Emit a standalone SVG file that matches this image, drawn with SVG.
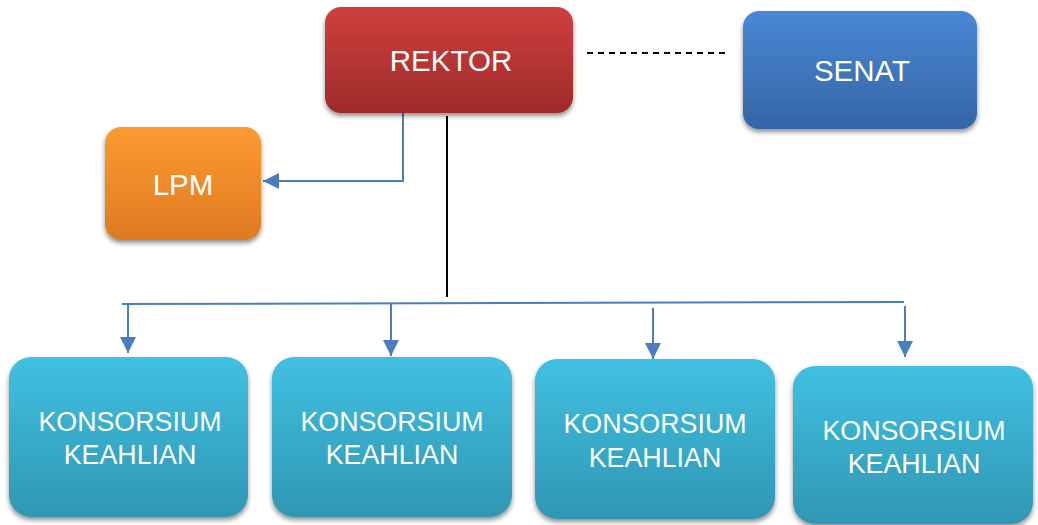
<svg xmlns="http://www.w3.org/2000/svg" width="1038" height="525" viewBox="0 0 1038 525">
<defs>
<linearGradient id="gRed" x1="0" y1="0" x2="0" y2="1"><stop offset="0" stop-color="#d03f3d"/><stop offset="1" stop-color="#9e2b2a"/></linearGradient>
<linearGradient id="gBlue" x1="0" y1="0" x2="0" y2="1"><stop offset="0" stop-color="#4a88d4"/><stop offset="1" stop-color="#3465a6"/></linearGradient>
<linearGradient id="gOrange" x1="0" y1="0" x2="0" y2="1"><stop offset="0" stop-color="#fc9b32"/><stop offset="1" stop-color="#de7a22"/></linearGradient>
<linearGradient id="gTeal" x1="0" y1="0" x2="0" y2="1"><stop offset="0" stop-color="#41c0e2"/><stop offset="1" stop-color="#2f97b3"/></linearGradient>
<filter id="sh" x="-10%" y="-10%" width="125%" height="130%"><feGaussianBlur in="SourceAlpha" stdDeviation="2.5"/><feOffset dx="0" dy="3" result="b"/><feComponentTransfer><feFuncA type="linear" slope="0.45"/></feComponentTransfer><feMerge><feMergeNode/><feMergeNode in="SourceGraphic"/></feMerge></filter>
<marker id="arr" viewBox="0 0 10 10" refX="10" refY="5" markerWidth="16" markerHeight="16" markerUnits="userSpaceOnUse" orient="auto"><path d="M0,0 L10,5 L0,10 z" fill="#4a7ebf"/></marker>
</defs>
<style>
text{font-family:"Liberation Sans",Arial,sans-serif;fill:#fff;text-anchor:middle}
.t28{font-size:29.5px}
.t26{font-size:26.8px}
.blue{stroke:#4a7ebf;stroke-width:2;fill:none}
</style>
<g id="connectors">
<line x1="587" y1="53" x2="728" y2="53" stroke="#000" stroke-width="2" stroke-dasharray="6,5"/>
<line x1="447" y1="116" x2="447" y2="297" stroke="#000" stroke-width="2"/>
<polyline class="blue" points="403,113 403,181 263,181" marker-end="url(#arr)"/>
<line class="blue" x1="122" y1="304" x2="904" y2="302"/>
<line class="blue" x1="128" y1="304" x2="128" y2="353" marker-end="url(#arr)"/>
<line class="blue" x1="391" y1="304" x2="391" y2="356" marker-end="url(#arr)"/>
<line class="blue" x1="653" y1="308" x2="653" y2="359" marker-end="url(#arr)"/>
<line class="blue" x1="905" y1="306" x2="905" y2="357" marker-end="url(#arr)"/>
</g>
<g id="rektor">
<rect x="325" y="7" width="248" height="106" rx="16" fill="url(#gRed)" filter="url(#sh)"/>
<text class="t28" x="451" y="71">REKTOR</text>
</g>
<g id="senat">
<rect x="743" y="11" width="234" height="118" rx="16" fill="url(#gBlue)" filter="url(#sh)"/>
<text class="t28" x="862" y="81">SENAT</text>
</g>
<g id="lpm">
<rect x="105" y="127" width="156" height="113" rx="16" fill="url(#gOrange)" filter="url(#sh)"/>
<text class="t28" x="183" y="195">LPM</text>
</g>
<g id="k1">
<rect x="9" y="357" width="239" height="160" rx="22" fill="url(#gTeal)" filter="url(#sh)"/>
<text class="t26" x="130" y="431">KONSORSIUM</text>
<text class="t26" x="130" y="464">KEAHLIAN</text>
</g>
<g id="k2">
<rect x="272" y="357" width="240" height="160" rx="22" fill="url(#gTeal)" filter="url(#sh)"/>
<text class="t26" x="392" y="431">KONSORSIUM</text>
<text class="t26" x="392" y="464">KEAHLIAN</text>
</g>
<g id="k3">
<rect x="535" y="359" width="240" height="160" rx="22" fill="url(#gTeal)" filter="url(#sh)"/>
<text class="t26" x="655" y="433">KONSORSIUM</text>
<text class="t26" x="655" y="467">KEAHLIAN</text>
</g>
<g id="k4">
<rect x="793" y="366" width="240" height="158" rx="22" fill="url(#gTeal)" filter="url(#sh)"/>
<text class="t26" x="914" y="440">KONSORSIUM</text>
<text class="t26" x="914" y="473">KEAHLIAN</text>
</g>
</svg>
